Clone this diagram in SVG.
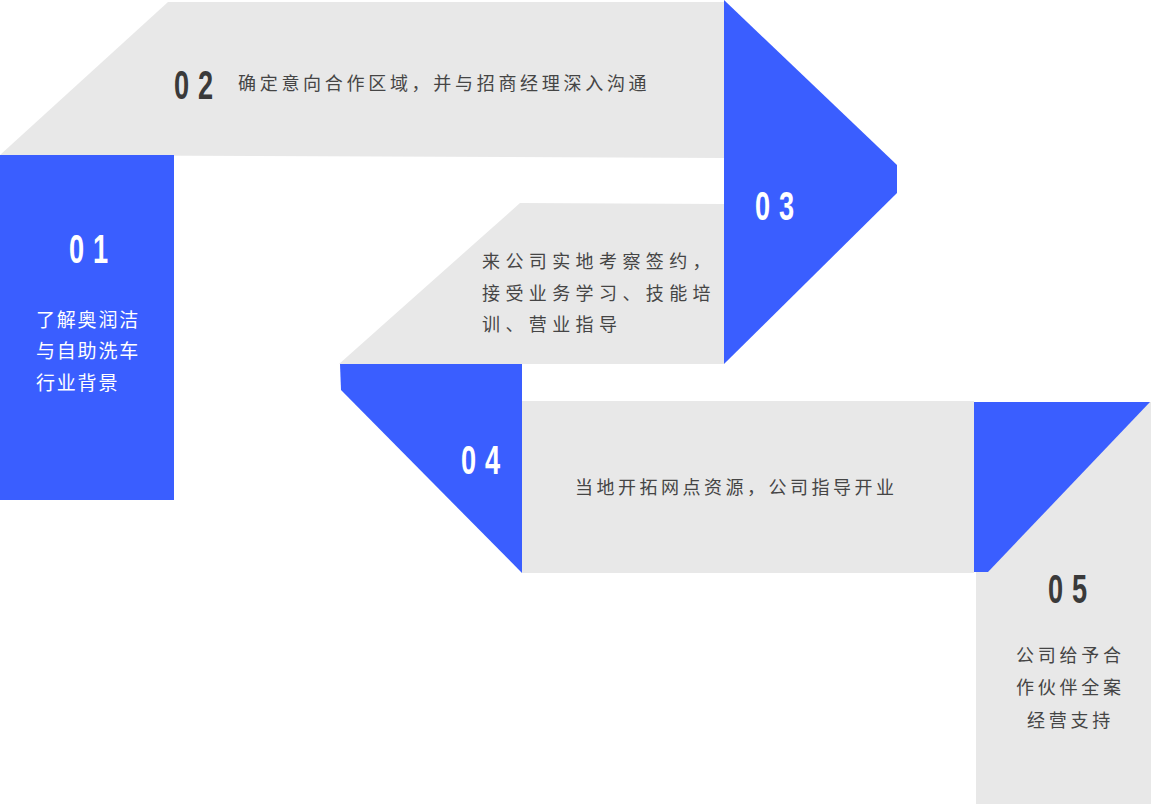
<svg xmlns="http://www.w3.org/2000/svg" width="1151" height="804" viewBox="0 0 1151 804">
<style>
.grey{fill:#e8e8e8}
.blue{fill:#3a5eff}
.num{font-family:"Liberation Sans",Arial,sans-serif;font-weight:bold;font-size:40px;letter-spacing:13px}
.numd{fill:#3a3a3a}
.numw{fill:#ffffff}
.txt{font-family:"Noto Sans CJK SC","Noto Sans",sans-serif;font-size:18px;fill:#454545}
.txtw{font-family:"Noto Sans CJK SC","Noto Sans",sans-serif;font-size:19px;fill:#ffffff;letter-spacing:1.8px}
</style>
<rect width="1151" height="804" fill="#ffffff"/>
<g id="node-02">
<polygon class="grey" points="168,2 724,2 724,158 0,155"/>
<text class="num numd" transform="translate(174,99) scale(0.68,1)">02</text>
<text class="txt" x="238" y="90" letter-spacing="3.7">确定意向合作区域，并与招商经理深入沟通</text>
</g>
<g id="node-03">
<polygon class="grey" points="520,203 724,204 724,364 339,364"/>
<polygon class="blue" points="724,0 897,165 897,193 724,364"/>
<text class="num numw" transform="translate(755,220) scale(0.68,1)">03</text>
<text class="txt" letter-spacing="5.4"><tspan x="482" y="268">来公司实地考察签约，</tspan><tspan x="482" y="300">接受业务学习、技能培</tspan><tspan x="482" y="331">训、营业指导</tspan></text>
</g>
<g id="node-04">
<rect class="grey" x="522" y="401" width="452" height="172"/>
<polygon class="blue" points="340,364 522,364 522,573 341,390"/>
<text class="num numw" transform="translate(461,474) scale(0.68,1)">04</text>
<text class="txt" x="575" y="494" letter-spacing="3.5">当地开拓网点资源，公司指导开业</text>
</g>
<g id="node-05">
<rect class="grey" x="976" y="402" width="175" height="402"/>
<polygon class="blue" points="974,402 1150,402 988,572 974,572"/>
<text class="num numd" transform="translate(1048,603) scale(0.68,1)">05</text>
<text class="txt" letter-spacing="3.75"><tspan x="1016" y="662">公司给予合</tspan><tspan x="1016" y="694">作伙伴全案</tspan><tspan x="1027" y="727">经营支持</tspan></text>
</g>
<g id="node-01">
<rect class="blue" x="0" y="155" width="174" height="345"/>
<text class="num numw" transform="translate(69,263) scale(0.68,1)">01</text>
<text class="txtw"><tspan x="36" y="327">了解奥润洁</tspan><tspan x="36" y="358">与自助洗车</tspan><tspan x="36" y="390">行业背景</tspan></text>
</g>
<g id="connectors"/>
</svg>
